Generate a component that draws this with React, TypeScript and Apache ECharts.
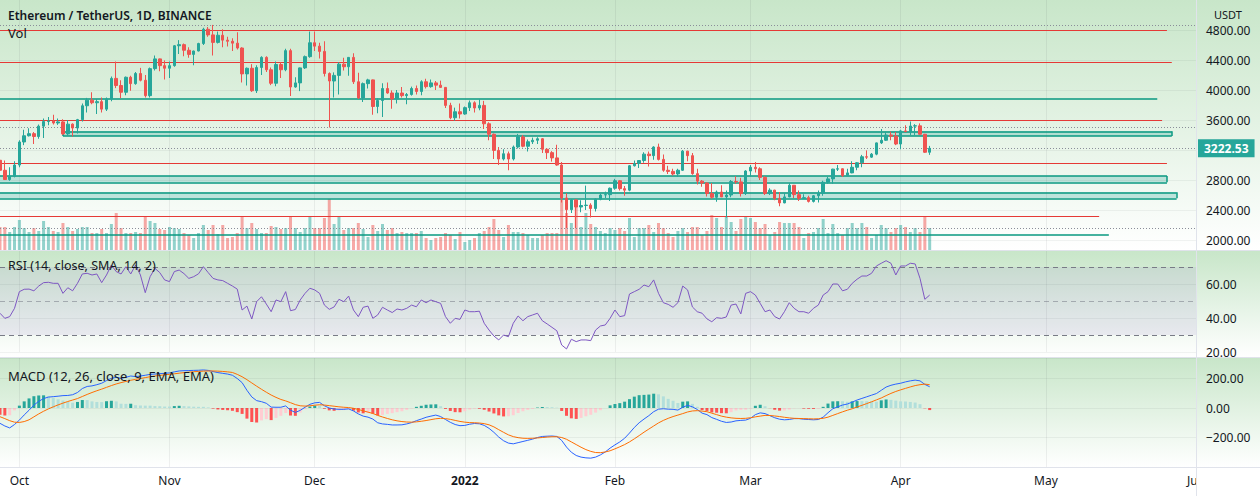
import React, { useEffect, useRef } from "react";
import * as echarts from "echarts";

// ---------- DATA ----------
const firstDay = "2021-09-27";
const axisDays = 248; // Sep 27 2021 .. Jun 1 2022
const monthNames = ["Jan", "Feb", "Mar", "Apr", "May", "Jun", "Jul", "Aug", "Sep", "Oct", "Nov", "Dec"];

const opens = [3063,2930,2806,2850,3000,3307,3390,3418,3380,3518,3580,3587,3560,3575,3415,3545,3493,3605,3790,3865,3830,3845,3745,3880,4155,4060,3970,4170,4085,4220,4130,3925,4285,4415,4325,4290,4325,4590,4605,4530,4475,4520,4620,4810,4735,4635,4730,4665,4650,4625,4560,4215,4290,3990,4300,4435,4270,4090,4340,4270,4525,4040,4095,4295,4445,4630,4585,4515,4220,4120,4195,4345,4310,4435,4110,3895,4085,4135,3780,3860,4020,3960,3880,3960,3925,3940,4020,3980,4110,4045,4095,4065,4035,3795,3630,3710,3680,3765,3830,3760,3795,3550,3410,3195,3080,3150,3080,3240,3375,3250,3310,3330,3350,3210,3165,3095,3000,2560,2405,2535,2440,2460,2465,2420,2545,2600,2605,2690,2790,2685,2665,2990,3020,3060,3145,3125,3240,3075,2930,2915,2880,2930,3185,3125,2885,2785,2760,2620,2570,2640,2575,2600,2780,2775,2620,2920,2970,2950,2835,2620,2665,2555,2495,2575,2730,2605,2555,2565,2515,2590,2620,2770,2815,2945,2950,2860,2895,2970,3030,3110,3105,3145,3295,3330,3400,3385,3280,3455,3445,3520,3522,3410,3170];
const highs = [3175,3060,2970,3050,3330,3470,3490,3440,3540,3620,3640,3670,3620,3610,3600,3555,3615,3820,3895,3970,3880,3900,3900,4180,4380,4130,4180,4190,4240,4295,4200,4300,4460,4420,4395,4380,4600,4665,4620,4570,4525,4630,4830,4840,4868,4780,4810,4710,4690,4770,4570,4300,4345,4330,4450,4450,4300,4380,4370,4550,4550,4170,4300,4460,4780,4780,4630,4650,4235,4235,4370,4430,4440,4490,4230,4100,4150,4140,3890,4090,4100,3995,4000,4040,3960,4045,4060,4130,4150,4140,4120,4125,4040,3830,3765,3820,3780,3860,3850,3875,3855,3570,3420,3240,3210,3180,3260,3415,3400,3340,3365,3370,3360,3220,3185,3270,3040,2625,2545,2545,2530,2725,2490,2555,2620,2645,2700,2815,2800,2720,3000,3060,3065,3170,3180,3250,3285,3140,2990,2950,2950,3200,3190,3160,2950,2800,2770,2760,2660,2730,2660,2800,2850,2830,2930,3000,3040,2970,2850,2690,2670,2640,2625,2760,2730,2660,2610,2590,2600,2660,2790,2840,2950,3000,2955,2950,3050,3040,3135,3195,3160,3300,3480,3445,3445,3440,3470,3530,3580,3545,3555,3415,3255];
const lows = [2915,2800,2790,2835,2970,3265,3380,3280,3350,3360,3530,3540,3535,3400,3390,3380,3420,3580,3700,3810,3680,3700,3720,3850,4025,3890,3930,3990,4070,4115,3900,3900,4260,4250,4140,4160,4310,4480,4450,4430,4330,4515,4600,4710,4460,4620,4570,4580,4520,4540,4100,4060,3975,3960,4200,4240,4065,4050,4160,4250,3920,4030,3985,4280,4430,4520,4420,4180,3500,3900,3940,4260,4190,4080,3880,3840,4020,3670,3690,3640,3950,3750,3820,3900,3810,3925,3940,3930,4020,4030,4000,4030,3760,3610,3590,3620,3670,3720,3700,3730,3480,3330,3080,3000,3060,2930,3060,3220,3235,3180,3280,3280,3160,3080,3045,2990,2500,2160,2360,2160,2370,2400,2300,2380,2530,2560,2520,2670,2660,2590,2650,2980,2960,3030,2980,3070,3060,2910,2880,2860,2840,2920,3050,2870,2740,2710,2580,2550,2510,2575,2300,2570,2750,2580,2600,2850,2900,2800,2600,2600,2530,2450,2490,2570,2560,2520,2550,2500,2500,2500,2590,2750,2750,2920,2840,2850,2890,2930,2970,3080,3095,3130,3280,3320,3330,3265,3210,3440,3400,3400,3405,3160,3135];
const closes = [2930,2806,2850,3000,3307,3390,3418,3380,3518,3580,3587,3560,3575,3415,3545,3493,3605,3790,3865,3830,3845,3745,3880,4155,4060,3970,4170,4085,4220,4130,3925,4285,4415,4325,4290,4325,4590,4605,4530,4475,4520,4620,4810,4735,4635,4730,4665,4650,4625,4560,4215,4290,3990,4300,4435,4270,4090,4340,4270,4525,4040,4095,4295,4445,4630,4585,4515,4220,4120,4195,4345,4310,4435,4110,3895,4085,4135,3780,3860,4020,3960,3880,3960,3925,3940,4020,3980,4110,4045,4095,4065,4035,3795,3630,3710,3680,3765,3830,3760,3795,3550,3410,3195,3080,3150,3080,3240,3375,3250,3310,3330,3350,3210,3165,3095,3000,2560,2405,2535,2440,2460,2465,2420,2545,2600,2605,2690,2790,2685,2665,2990,3020,3060,3145,3125,3240,3075,2930,2915,2880,2930,3185,3125,2885,2785,2760,2620,2570,2640,2575,2600,2780,2775,2620,2920,2970,2950,2835,2620,2665,2555,2495,2575,2730,2605,2555,2565,2515,2590,2620,2770,2815,2945,2950,2860,2895,2970,3030,3110,3105,3145,3295,3330,3400,3385,3280,3455,3445,3520,3522,3410,3170,3222.53];
// volume in thousand ETH
const volumes = [690,690,540,690,900,660,540,660,570,870,690,570,540,810,690,570,630,690,690,510,510,630,510,780,1110,660,510,510,540,510,990,870,810,630,600,690,660,630,510,450,360,510,750,600,750,480,750,360,390,510,990,660,810,630,510,510,720,690,630,660,990,660,540,660,1020,660,660,960,1530,780,990,600,660,660,810,630,390,750,570,780,600,660,510,540,510,510,510,570,360,300,360,390,510,450,330,540,240,300,360,510,570,690,930,600,390,750,540,540,510,450,360,360,450,510,510,510,1500,1110,810,1500,690,1110,780,690,570,510,660,600,660,570,960,390,660,660,750,540,810,660,510,390,570,660,540,690,690,450,570,1050,960,690,990,840,570,930,990,960,840,660,780,450,540,840,810,810,810,690,360,510,540,660,930,510,780,510,450,660,810,660,810,690,360,450,750,660,540,660,750,690,540,660,540,990,660];
const rsiValues = [42.8,39.8,40.8,45.7,55.5,56.9,57,56,58.8,60.8,61,60.4,60.4,54.5,57.8,56,60.4,65.9,66.3,65.3,65.9,60.8,65.3,71.2,67.3,65.9,70.2,65.9,71.2,65.3,54.9,64.3,69.2,66.7,62.4,61.4,67.3,68.2,66.1,63.3,64.3,66,70.2,66.7,63.3,62.4,62,60.4,58.8,57,44.7,47,39.4,49.6,52.5,48.2,43.7,50.6,49.6,55.5,44.3,45,50.6,54.5,57.5,56.5,54.5,47.6,45.1,46.5,51,49.6,52.9,44.7,40.8,46.3,47,39.8,41.8,46.3,44.7,43.2,45.3,44.7,45.7,47.6,46.6,50.6,49,50.6,49.6,48.6,40.8,36.9,39.8,39.2,44.7,43.7,43.7,44,36.9,32.9,29.4,27.1,30,29,36.9,41.2,38.4,40.8,41.8,42.8,38.4,36.5,34.5,32.5,24.1,21.8,27.5,26.1,27.1,27.1,26.7,32.9,35.3,35.9,39.8,44.7,40.8,41.4,54.1,55.5,56.9,59.4,58.4,62.4,54.5,49,48,46.3,49,58.8,56.5,46.5,43.7,42.8,39.5,37.8,40.2,39.8,40.6,47.6,48.2,42.4,54.5,55.5,53.5,48.6,43.7,44.7,40.8,39.4,43.7,49,45.7,43.7,43.7,42.8,45.7,47.6,53.5,55.5,60,60,56,56.9,60.4,62.8,64.7,64.7,66.3,70.6,72.2,73.7,72.2,65.3,70.6,70.6,72.2,71.8,63.3,51,53.5];
const macdValues = [-104,-122,-135,-112,-82,-47,-15,20,45,64,74,77,80,84,85,90,105,132,146,150,158,168,186,201,208,201,208,217,213,217,222,228,230,233,235,238,245,251,253,254,255,256,258,255,247,240,235,230,222,200,172,120,75,50,43,32,6,5,5,14,-15,-30,-16,5,25,35,38,15,0,-7,-9,-9,-6,-20,-40,-55,-62,-75,-100,-108,-111,-115,-115,-114,-108,-99,-86,-75,-63,-55,-48,-58,-78,-97,-112,-120,-118,-110,-105,-107,-118,-138,-165,-197,-222,-238,-243,-235,-227,-219,-211,-200,-193,-191,-190,-193,-220,-265,-300,-322,-333,-338,-340,-333,-318,-298,-272,-250,-230,-205,-170,-132,-100,-75,-52,-25,-8,-5,-8,-9,-14,5,18,8,-10,-35,-45,-65,-77,-90,-98,-95,-87,-84,-82,-70,-45,-33,-38,-52,-66,-76,-80,-78,-72,-72,-76,-78,-80,-78,-62,-32,-5,8,20,27,40,54,65,76,87,98,120,142,154,162,168,177,184,189,184,160,144];
const signalValues = [-59,-72,-86,-96,-98,-92,-80,-60,-40,-22,-6,8,21,33,44,54,64,78,92,105,117,128,140,152,163,172,180,188,194,200,206,212,217,221,225,228,232,236,240,243,246,248,250,251,251,250,248,245,241,228,212,192,170,148,127,107,88,72,58,48,36,23,15,13,15,19,22,20,16,12,8,5,3,-2,-10,-19,-28,-37,-50,-61,-71,-80,-87,-92,-95,-96,-94,-90,-85,-79,-73,-70,-72,-77,-84,-91,-96,-99,-100,-102,-106,-114,-128,-147,-165,-182,-194,-201,-205,-206,-205,-203,-200,-197,-195,-195,-200,-212,-230,-248,-266,-282,-294,-302,-303,-298,-290,-277,-263,-248,-230,-209,-187,-164,-143,-122,-101,-84,-70,-58,-48,-38,-27,-20,-18,-21,-25,-35,-45,-55,-62,-67,-70,-71,-70,-66,-60,-55,-50,-51,-54,-58,-63,-67,-70,-71,-72,-73,-74,-73,-70,-62,-50,-38,-26,-15,-5,7,18,30,42,55,68,84,99,112,123,133,143,152,158,162,158];
const histValues = [-45,-50,-49,-16,16,45,65,80,85,86,80,69,59,51,41,36,41,54,54,45,41,40,46,49,45,29,28,29,19,17,16,16,13,12,10,10,13,15,13,11,9,8,8,4,-4,-10,-13,-15,-19,-28,-40,-72,-95,-98,-84,-75,-82,-67,-53,-34,-51,-53,-31,-8,10,16,16,-5,-16,-19,-17,-14,-9,-18,-30,-36,-34,-38,-50,-47,-40,-35,-28,-22,-13,-3,8,15,22,24,25,12,-6,-20,-28,-29,-22,-11,-5,-5,-12,-24,-37,-50,-57,-56,-49,-34,-22,-13,-6,3,7,6,5,2,-20,-53,-70,-74,-67,-56,-46,-31,-15,0,18,27,33,43,60,77,87,89,91,97,93,79,62,49,34,43,45,28,8,-14,-20,-30,-32,-35,-36,-28,-17,-13,-12,-4,15,22,12,-1,-12,-18,-17,-11,-2,-1,-4,-5,-6,-5,8,30,45,46,46,42,45,47,47,46,45,43,52,58,55,50,45,44,41,37,26,-2,-14];

const lastPrice = 3222.53;
const priceTicks = [2000, 2400, 2800, 3200, 3600, 4000, 4400, 4800];
// drawn horizontal levels: price, first day index, last day index
const redLevels = [4795, 4373, 3596, 3022, 2316];
const redLevelStart = [0, 0, 0, 0, 0];
const redLevelEnd = [241, 242, 240, 241, 227];
const greenLevels = [3889, 2076];
const greenLevelStart = [0, 0];
const greenLevelEnd = [239, 229];
const zoneLow = [3387, 2769, 2556];
const zoneHigh = [3449, 2853, 2636];
const zoneStart = [13, 0, 0];
const zoneEnd = [242, 241, 243];
const dottedLevels = [4867, 3507, 2160];
const rsiLevels = [70, 50, 30];

function buildDays(): string[] {
  const out: string[] = [];
  const base = new Date(firstDay + "T00:00:00Z").getTime();
  for (let i = 0; i < axisDays; i++) {
    out.push(new Date(base + i * 86400000).toISOString().slice(0, 10));
  }
  return out;
}

const UP = "#26a69a";
const DOWN = "#ef5350";
const TXT = "#131722";
const ZONE = "#089981";
const FONT = "'Noto Sans', 'Liberation Sans', sans-serif";

export default function App() {
  const ref = useRef<HTMLDivElement>(null);
  useEffect(() => {
    if (!ref.current) return;
    const chart = echarts.init(ref.current, undefined, { renderer: "svg" });
    const days = buildDays();
    const candles = opens.map((o, i) => [o, closes[i], lows[i], highs[i]]);
    const vol = volumes.map((v, i) => ({
      value: v,
      itemStyle: { color: closes[i] >= opens[i] ? "rgba(38,166,154,0.5)" : "rgba(239,83,80,0.5)" },
    }));
    const hist = histValues.map((h, i) => {
      const prev = i > 0 ? histValues[i - 1] : h;
      let c;
      if (h >= 0) c = prev < h ? "#26a69a" : "#b2dfdb";
      else c = prev < h ? "#ffcdd2" : "#ff5252";
      return { value: h, itemStyle: { color: c } };
    });

    const L = 0;
    const R = 64;
    const grids = [
      { left: L, right: R, top: 0, height: 270 },
      { left: L, right: R, top: 0, height: 250 },
      { left: L, right: R, top: 250, height: 102 },
      { left: L, right: R, top: 358, height: 109 },
    ];
    const isMonthStart = (_: number, v: string) => v.slice(8, 10) === "01";
    const xAxes = grids.map((_, gi) => ({
      type: "category",
      gridIndex: gi,
      data: days,
      boundaryGap: false,
      axisLine: { show: false },
      axisTick: { show: false },
      splitLine: {
        show: gi !== 0,
        interval: isMonthStart,
        lineStyle: { color: "rgba(42,46,57,0.07)", width: 1 },
      },
      axisLabel: gi === 3
        ? {
            show: true,
            interval: isMonthStart,
            margin: 7,
            color: TXT,
            fontSize: 12,
            fontFamily: FONT,
            formatter: (v: string) => {
              const m = v.slice(5, 7);
              if (m === "01") return "{y|" + v.slice(0, 4) + "}";
              return monthNames[parseInt(m, 10) - 1];
            },
            rich: { y: { fontWeight: "bold", fontSize: 12, color: TXT, fontFamily: FONT } },
          }
        : { show: false },
    }));

    const labelStyle = { color: TXT, fontSize: 12, fontFamily: FONT, margin: 10 };
    const yAxes = [
      {
        type: "value", gridIndex: 0, position: "right", min: 1600, max: 5200, interval: 400, z: 10,
        axisLine: { show: false }, axisTick: { show: false }, splitLine: { show: false },
        axisLabel: {
          ...labelStyle,
          formatter: (v: number) =>
            v < 2000 || v > 4800 || Math.abs(v - lastPrice) < 120 ? "" : v.toFixed(2),
        },
      },
      {
        type: "value", gridIndex: 1, min: 0, max: 7500, show: false,
      },
      {
        type: "value", gridIndex: 2, position: "right", min: 20, max: 80, interval: 20, z: 10,
        axisLine: { show: false }, axisTick: { show: false },
        splitLine: { show: true, lineStyle: { color: "rgba(42,46,57,0.06)" } },
        axisLabel: { ...labelStyle, formatter: (v: number) => (v >= 80 ? "" : v.toFixed(2)) },
      },
      {
        type: "value", gridIndex: 3, position: "right", min: -400, max: 339, interval: 200, z: 10,
        axisLine: { show: false }, axisTick: { show: false },
        splitLine: { show: true, lineStyle: { color: "rgba(42,46,57,0.06)" } },
        axisLabel: {
          ...labelStyle,
          formatter: (v: number) =>
            v % 200 !== 0 || v <= -400 ? "" : v.toFixed(2).replace("-", "\u2212"),
        },
      },
    ];

    const seg = (x1: number, y1: number, x2: number, y2: number, color: string, width: number) => [
      { coord: [days[x1], y1], lineStyle: { color, width, type: "solid" } },
      { coord: [days[x2], y2] },
    ];
    const levelLines: any[] = [];
    priceTicks.forEach((p) => levelLines.push({ yAxis: p, lineStyle: { color: "rgba(42,46,57,0.06)", width: 1, type: "solid" } }));
    redLevels.forEach((p, i) => levelLines.push(seg(redLevelStart[i], p, redLevelEnd[i], p, "#e53935", 1)));
    greenLevels.forEach((p, i) => levelLines.push(seg(greenLevelStart[i], p, greenLevelEnd[i], p, ZONE, 1.5)));
    zoneLow.forEach((lo, i) => {
      const hi = zoneHigh[i];
      levelLines.push(seg(zoneStart[i], hi, zoneEnd[i], hi, ZONE, 1.5));
      levelLines.push(seg(zoneStart[i], lo, zoneEnd[i], lo, ZONE, 1.5));
      levelLines.push(seg(zoneEnd[i], lo, zoneEnd[i], hi, ZONE, 1.5));
      if (zoneStart[i] > 0) levelLines.push(seg(zoneStart[i], lo, zoneStart[i], hi, ZONE, 1.5));
    });
    dottedLevels.forEach((p) => levelLines.push({ yAxis: p, lineStyle: { color: "#8a8e99", width: 1, type: [1, 2] } }));
    levelLines.push({
      yAxis: lastPrice,
      lineStyle: { color: "#8a8e99", width: 1, type: [1, 2] },
      label: {
        show: true, position: "end", distance: 2, formatter: lastPrice.toFixed(2),
        backgroundColor: UP, color: "#ffffff", fontSize: 12, fontWeight: "bold",
        fontFamily: FONT, padding: [3, 6, 3, 6],
      },
    });
    const zoneAreas = zoneLow.map((lo, i) => [
      { coord: [days[zoneStart[i]], zoneHigh[i]] },
      { coord: [days[zoneEnd[i]], lo] },
    ]);

    const paneFill = {
      type: "linear", x: 0, y: 0, x2: 0, y2: 1,
      colorStops: [{ offset: 0, color: "#c8e6c9" }, { offset: 1, color: "#ffffff" }],
    };

    const option: any = {
      animation: false,
      textStyle: { fontFamily: FONT },
      graphic: [
        { type: "rect", z: -10, silent: true, shape: { x: 0, y: 0, width: 1260, height: 250 }, style: { fill: paneFill } },
        { type: "rect", z: -10, silent: true, shape: { x: 0, y: 251, width: 1260, height: 106 }, style: { fill: paneFill } },
        { type: "rect", z: -10, silent: true, shape: { x: 0, y: 358, width: 1260, height: 109 }, style: { fill: paneFill } },
        { type: "rect", z: -10, silent: true, shape: { x: 0, y: 467, width: 1260, height: 29 }, style: { fill: "#ffffff" } },
        { type: "line", z: 50, silent: true, shape: { x1: 0, y1: 250.5, x2: 1260, y2: 250.5 }, style: { stroke: "#e0e3eb", lineWidth: 1 } },
        { type: "line", z: 50, silent: true, shape: { x1: 0, y1: 357.5, x2: 1260, y2: 357.5 }, style: { stroke: "#e0e3eb", lineWidth: 1 } },
        { type: "line", z: 50, silent: true, shape: { x1: 0, y1: 467.5, x2: 1260, y2: 467.5 }, style: { stroke: "#e0e3eb", lineWidth: 1 } },
        { type: "rect", z: 60, silent: true, shape: { x: 1197, y: 468, width: 63, height: 28 }, style: { fill: "#ffffff" } },
        { type: "line", z: 61, silent: true, shape: { x1: 1196.5, y1: 0, x2: 1196.5, y2: 496 }, style: { stroke: "#e0e3eb", lineWidth: 1 } },
        { type: "text", z: 70, left: 8, top: 9, style: { text: "Ethereum / TetherUS, 1D, BINANCE", fill: TXT, font: "600 12px " + FONT } },
        { type: "text", z: 70, left: 8, top: 26, style: { text: "Vol", fill: TXT, font: "13px " + FONT } },
        { type: "text", z: 70, left: 8, top: 259, style: { text: "RSI (14, close, SMA, 14, 2)", fill: TXT, font: "12.5px " + FONT } },
        { type: "text", z: 70, left: 8, top: 369, style: { text: "MACD (12, 26, close, 9, EMA, EMA)", fill: TXT, font: "13px " + FONT } },
        { type: "text", z: 70, left: 1214, top: 9, style: { text: "USDT", fill: TXT, font: "11px " + FONT } },
      ],
      grid: grids,
      xAxis: xAxes,
      yAxis: yAxes,
      series: [
        {
          name: "Vol", type: "bar", xAxisIndex: 1, yAxisIndex: 1, data: vol, barWidth: 3, z: 1,
        },
        {
          name: "levels", type: "line", xAxisIndex: 0, yAxisIndex: 0, data: [], clip: false, silent: true, z: 3,
          markArea: {
            silent: true,
            itemStyle: { color: "rgba(0,150,136,0.22)", borderWidth: 0 },
            data: zoneAreas,
          },
          markLine: { silent: true, symbol: ["none", "none"], label: { show: false }, data: levelLines },
        },
        {
          name: "ETHUSDT", type: "candlestick", xAxisIndex: 0, yAxisIndex: 0, data: candles, barWidth: 3, z: 5,
          itemStyle: { color: UP, color0: DOWN, borderColor: UP, borderColor0: DOWN, borderWidth: 1 },
        },
        {
          name: "RSI", type: "line", xAxisIndex: 2, yAxisIndex: 2, data: rsiValues, symbol: "none",
          lineStyle: { color: "#7e57c2", width: 1 }, z: 5,
          markArea: { silent: true, itemStyle: { color: "rgba(126,87,194,0.1)" }, data: [[{ yAxis: rsiLevels[2] }, { yAxis: rsiLevels[0] }]] },
          markLine: {
            silent: true, symbol: ["none", "none"], label: { show: false },
            data: rsiLevels.map((v, i) => ({
              yAxis: v,
              lineStyle: { color: i === 1 ? "rgba(120,123,134,0.55)" : "#787b86", type: [5, 4], width: 1 },
            })),
          },
        },
        {
          name: "Histogram", type: "bar", xAxisIndex: 3, yAxisIndex: 3, data: hist, barWidth: 3, z: 3,
        },
        {
          name: "MACD", type: "line", xAxisIndex: 3, yAxisIndex: 3, data: macdValues, symbol: "none",
          lineStyle: { color: "#2962ff", width: 1 }, z: 5,
        },
        {
          name: "Signal", type: "line", xAxisIndex: 3, yAxisIndex: 3, data: signalValues, symbol: "none",
          lineStyle: { color: "#ff6d00", width: 1 }, z: 5,
        },
      ],
    };
    chart.setOption(option);
    return () => chart.dispose();
  }, []);
  return (
    <div
      ref={ref}
      style={{ position: "fixed", left: 0, top: 0, width: 1260, height: 496, background: "#ffffff" }}
    />
  );
}
